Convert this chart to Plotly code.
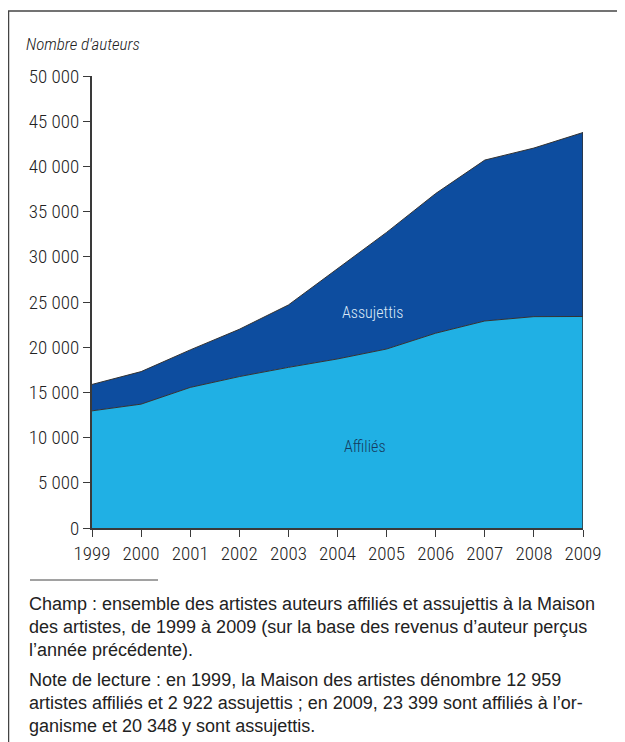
import plotly.graph_objects as go

years = [1999, 2000, 2001, 2002, 2003, 2004, 2005, 2006, 2007, 2008, 2009]
affilies = [12959, 13700, 15550, 16750, 17770, 18700, 19800, 21550, 22900, 23380, 23399]
assujettis = [2922, 3600, 4150, 5230, 6900, 10000, 12900, 15450, 17800, 18650, 20348]

y_tickvals = [0, 5000, 10000, 15000, 20000, 25000, 30000, 35000, 40000, 45000, 50000]
y_ticktext = ["0", "5 000", "10 000", "15 000", "20 000", "25 000", "30 000", "35 000", "40 000", "45 000", "50 000"]
x_ticktext = [str(y) for y in years]

LIGHT = "#20B0E4"
DARK = "#0D4D9F"
EDGE = "#333333"
NARROW = "Roboto Condensed, Liberation Sans Narrow, Arial"
REG = "Liberation Sans, Arial"

# page is offset by the 8px body margin: plot area spans page x 92..583, y 76..528
W, H = 617, 734
L, R, T, B = 84, 42, 68, 214
PW, PH = W - L - R, H - T - B


def px(xp):
    return (xp - 92) / PW


def py(yp):
    return (528 - yp) / PH


fig = go.Figure()
fig.add_trace(go.Scatter(x=years, y=affilies, stackgroup="s", mode="lines",
                         line=dict(color=EDGE, width=1), fillcolor=LIGHT, name="Affiliés"))
fig.add_trace(go.Scatter(x=years, y=assujettis, stackgroup="s", mode="lines",
                         line=dict(color=EDGE, width=1), fillcolor=DARK, name="Assujettis"))

total_last = affilies[-1] + assujettis[-1]
fig.add_shape(type="line", xref="x", yref="y", x0=years[-1], x1=years[-1], y0=0, y1=total_last,
              line=dict(color=EDGE, width=1.5))

tickfont = dict(family=NARROW, size=19, color="#222", weight=300)
fig.update_layout(
    width=W, height=H,
    margin=dict(l=L, r=R, t=T, b=B),
    paper_bgcolor="white", plot_bgcolor="white",
    showlegend=False,
    xaxis=dict(range=[years[0], years[-1]], tickvals=years, ticktext=x_ticktext,
               showgrid=False, zeroline=False, showline=True, linecolor="#3a3a3a", linewidth=2,
               ticks="outside", ticklen=7, tickcolor="#3a3a3a", tickwidth=1,
               tickfont=tickfont),
    yaxis=dict(range=[0, 50000], tickvals=y_tickvals, ticktext=y_ticktext,
               showgrid=False, zeroline=False, showline=True, linecolor="#3a3a3a", linewidth=2,
               ticks="outside", ticklen=7, tickcolor="#3a3a3a", tickwidth=1,
               tickfont=tickfont),
)

# frame lines (top and left)
fig.add_shape(type="line", xref="paper", yref="paper", x0=px(8), x1=px(640), y0=py(11), y1=py(11),
              line=dict(color="#444", width=1.5))
fig.add_shape(type="line", xref="paper", yref="paper", x0=px(8.5), x1=px(8.5), y0=py(11), y1=py(760),
              line=dict(color="#444", width=1.5))
# separator line
fig.add_shape(type="line", xref="paper", yref="paper", x0=px(30), x1=px(158), y0=py(580), y1=py(580),
              line=dict(color="#444", width=1))

fig.add_annotation(text="<i>Nombre d'auteurs</i>", xref="paper", yref="paper", x=px(24), y=py(44),
                   xanchor="left", yanchor="middle", showarrow=False,
                   font=dict(family=NARROW, size=17, color="#222", weight=300))
fig.add_annotation(text="Assujettis", xref="x", yref="y", x=2004.72, y=23800, showarrow=False,
                   font=dict(family=NARROW, size=16, color="#DCE9F7", weight=300))
fig.add_annotation(text="Affiliés", xref="x", yref="y", x=2004.55, y=9050, showarrow=False,
                   font=dict(family=NARROW, size=16, color="#163A5E", weight=300))

lines = [
    ("Champ : ensemble des artistes auteurs affiliés et assujettis à la Maison", 604),
    ("des artistes, de 1999 à 2009 (sur la base des revenus d’auteur perçus", 627),
    ("l’année précédente).", 650),
    ("Note de lecture : en 1999, la Maison des artistes dénombre 12 959", 680),
    ("artistes affiliés et 2 922 assujettis ; en 2009, 23 399 sont affiliés à l’or-", 703),
    ("ganisme et 20 348 y sont assujettis.", 726),
]
for txt, ypx in lines:
    fig.add_annotation(text=txt, xref="paper", yref="paper", x=px(27), y=py(ypx),
                       xanchor="left", yanchor="middle", showarrow=False,
                       font=dict(family=REG, size=18, color="#222"))

fig.write_html("out.html")
